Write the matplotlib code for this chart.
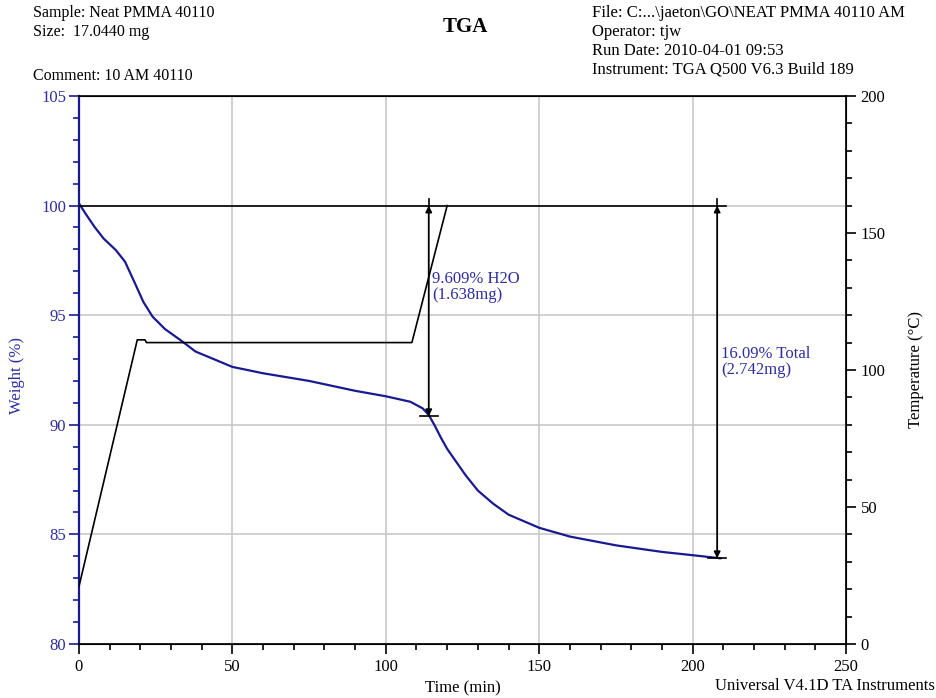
import matplotlib.pyplot as plt
from matplotlib.ticker import MultipleLocator

plt.rcParams['font.family'] = ['Liberation Serif', 'DejaVu Serif']

# weight curve (% vs min)
time_w = [0, 2, 5, 8, 12, 15, 18, 21, 24, 28, 33, 38, 50, 60, 75, 90, 100, 108,
          112, 114, 116, 118, 120, 123, 126, 130, 135, 140, 150, 160, 175, 190, 200, 209]
weight = [100.1, 99.66, 99.04, 98.5, 97.97, 97.44, 96.53, 95.6, 94.93, 94.37, 93.87,
          93.34, 92.64, 92.35, 92.0, 91.55, 91.3, 91.05, 90.75, 90.45, 89.95, 89.4,
          88.9, 88.3, 87.7, 87.0, 86.4, 85.9, 85.3, 84.9, 84.5, 84.2, 84.05, 83.91]

# temperature program (degC vs min)
time_t = [0, 19, 21.5, 22, 108.5, 120]
temp = [21, 111, 111, 110, 110, 160]

# step annotations: (time, lower weight, label)
steps = [(114, 90.391, "9.609% H2O\n(1.638mg)"),
         (208, 83.91, "16.09% Total\n(2.742mg)")]

blue = '#1a1a90'
txtblue = '#2e2e9e'

fig = plt.figure(figsize=(9.37, 6.98), dpi=100)
ax = fig.add_axes([0.0843, 0.0774, 0.8186, 0.7851])
ax2 = ax.twinx()

ax.plot(time_w, weight, color=blue, lw=1.6, zorder=3)
ax2.plot(time_t, temp, color='black', lw=1.2)

ax.set_xlim(0, 250)
ax.set_ylim(80, 105)
ax2.set_ylim(0, 200)
ax.xaxis.set_major_locator(MultipleLocator(50))
ax.xaxis.set_minor_locator(MultipleLocator(10))
ax.yaxis.set_major_locator(MultipleLocator(5))
ax.yaxis.set_minor_locator(MultipleLocator(1))
ax2.yaxis.set_major_locator(MultipleLocator(50))
ax2.yaxis.set_minor_locator(MultipleLocator(10))
ax.grid(True, which='major', color='#c8c8c8', lw=1.2)
ax.set_axisbelow(True)

ax.tick_params(which='major', length=7, width=1.2, labelsize=12)
ax.tick_params(which='minor', length=4, width=1.2)
ax.tick_params(axis='y', which='both', colors=blue, labelcolor=txtblue, pad=2)
ax2.tick_params(which='major', length=7, width=1.2, labelsize=12)
ax2.tick_params(which='minor', length=4, width=1.2)
ax.spines['left'].set_color(blue)
ax.spines['left'].set_linewidth(1.6)
ax2.spines['left'].set_visible(False)
for s in ['bottom', 'right', 'top']:
    ax2.spines[s].set_linewidth(1.2)

ax.set_xlabel("Time (min)", fontsize=12, labelpad=4)
ax.set_ylabel("Weight (%)", fontsize=12, color=txtblue)
ax.yaxis.set_label_coords(-0.071, 0.49)
ax2.set_ylabel("Temperature (°C)", fontsize=12, labelpad=16)

# reference line at 100 % and step arrows
ax.plot([0, 211], [100, 100], color='black', lw=1.2, zorder=4)
for (t, w, label), ty in zip(steps, [97.0, 93.6]):
    ax.annotate("", xy=(t, w), xytext=(t, 100),
                arrowprops=dict(arrowstyle='<|-|>', color='black', lw=1.3,
                                mutation_scale=9, shrinkA=0, shrinkB=0), zorder=5)
    ax.plot([t - 3, t + 3], [w, w], color='black', lw=1.2, zorder=5)
    ax.plot([t, t], [100, 100.3], color='black', lw=1.2, zorder=5)
    ax.text(t + 1.2, ty, label, color=txtblue,
            fontsize=12, va='top', ha='left', linespacing=1.0)

# header text
fig.text(0.035, 0.993, "Sample: Neat PMMA 40110\nSize:  17.0440 mg", fontsize=11.5,
         va='top', linespacing=1.3)
fig.text(0.035, 0.903, "Comment: 10 AM 40110", fontsize=11.5, va='top')
fig.text(0.497, 0.962, "TGA", fontsize=15, fontweight='bold', ha='center', va='center')
fig.text(0.632, 0.993, "File: C:...\\jaeton\\GO\\NEAT PMMA 40110 AM\nOperator: tjw\n"
         "Run Date: 2010-04-01 09:53\nInstrument: TGA Q500 V6.3 Build 189",
         fontsize=12, va='top', linespacing=1.25)
fig.text(0.998, 0.017, "Universal V4.1D TA Instruments", fontsize=12, ha='right', va='center')

fig.savefig("out.png", dpi=100)
